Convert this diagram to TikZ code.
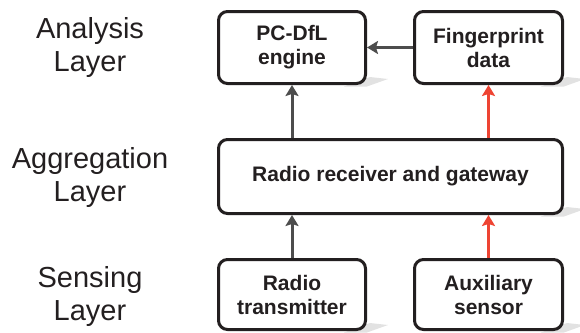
\documentclass[tikz,border=0pt]{standalone}
\usepackage{fontspec}
\setmainfont{Liberation Sans}
\usetikzlibrary{arrows.meta}
\definecolor{txt}{HTML}{231F20}
\definecolor{arrgray}{HTML}{4D4D4D}
\definecolor{arrred}{HTML}{EE4433}
\definecolor{shd}{HTML}{E2E2E2}
\begin{document}
\begin{tikzpicture}[x=1pt,y=-1pt,
  box/.style={draw=txt, line width=3pt, rounded corners=9pt, fill=white,
    align=center, text=txt, inner sep=0pt,
    font=\fontsize{21}{24}\selectfont\bfseries},
  layerlbl/.style={align=center, text=txt, inner sep=0pt,
    font=\fontsize{29}{33}\selectfont},
  conn/.style={line width=3pt, draw=arrgray, -{Stealth[length=11pt,width=13pt,inset=2pt]}},
  connred/.style={conn, draw=arrred}
]
\useasboundingbox (0,0) rectangle (580,332);
% shadows
\foreach \r/\b in {366/84, 563/84, 563/214, 366/330, 563/330}{
  \fill[shd] (\r-22,\b+2.5) -- (\r+1,\b+2.5) -- (\r+22,\b-5) -- (\r+4,\b-7) -- cycle;
}
\node[box, minimum width=147pt, minimum height=72pt] (pc) at (292,47.5) {PC-DfL\\engine};
\node[box, minimum width=148pt, minimum height=72pt] (fp) at (488.5,47.5) {Fingerprint\\data};
\node[box, minimum width=344pt, minimum height=74pt] (rx) at (390.5,176.5) {Radio receiver and gateway};
\node[box, minimum width=147pt, minimum height=70pt] (tx) at (292,294.5) {Radio\\transmitter};
\node[box, minimum width=148pt, minimum height=70pt] (aux) at (488.5,294.5) {Auxiliary\\sensor};

\node[layerlbl] (la) at (90,47.5) {Analysis\\Layer};
\node[layerlbl] (lg) at (90,177) {Aggregation\\Layer};
\node[layerlbl] (ls) at (90,296) {Sensing\\Layer};

\draw[conn] (fp.west) -- (pc.east);
\draw[conn] (rx.north -| pc.south) -- (pc.south);
\draw[connred] (rx.north -| fp.south) -- (fp.south);
\draw[conn] (tx.north) -- (tx.north |- rx.south);
\draw[connred] (aux.north) -- (aux.north |- rx.south);
\end{tikzpicture}
\end{document}
